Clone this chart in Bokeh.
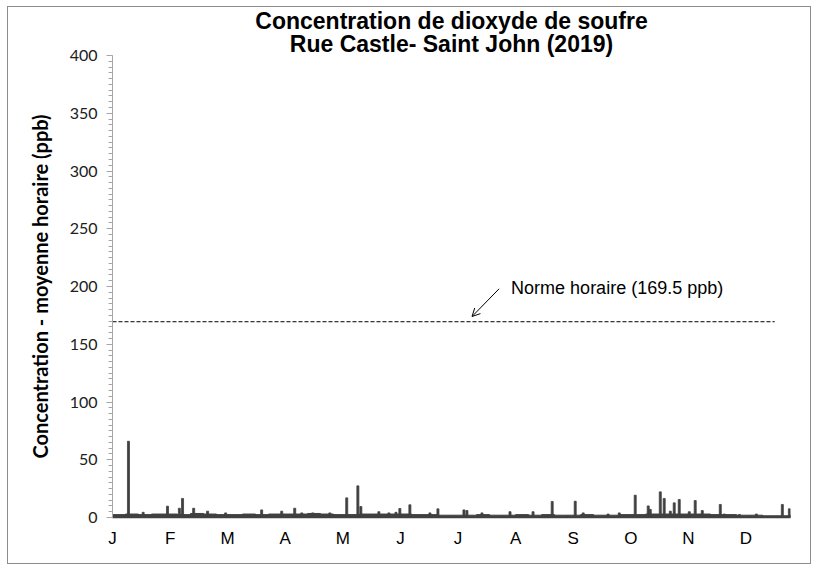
from bokeh.plotting import figure
from bokeh.models import Label, Arrow, OpenHead, FixedTicker, Range1d, Title
from bokeh.embed import file_html
from bokeh.resources import INLINE

# ---------------- data ----------------
months = ["J", "F", "M", "A", "M", "J", "J", "A", "S", "O", "N", "D"]
label_interval_h = 744          # category-axis label interval (hours)
n_hours = 8760                  # hourly values in 2019

# day of year of the short SO2 peaks and their hourly maximum (ppb)
spike_day = [8.6, 16.5, 29.6, 36.0, 37.7, 43.7, 51.2, 60.9, 80.3, 91.1,
             98.1, 101.9, 107.8, 117.0, 126.1, 132.1, 133.7, 143.4, 148.8,
             152.6, 154.7, 160.1, 170.9, 175.2, 189.2, 190.8, 198.9, 214.0,
             226.4, 236.7, 249.1, 253.4, 266.8, 272.8, 281.4, 288.4, 289.5,
             294.9, 297.0, 300.3, 302.4, 305.1, 310.5, 313.7, 317.5, 327.2,
             329.4, 337.5, 346.6, 360.6, 364.4]
spike_ppb = [66.0, 4.5, 9.8, 8.0, 16.5, 8.0, 5.5, 4.0, 6.6, 5.5,
             8.0, 4.0, 4.0, 4.0, 17.0, 27.4, 9.5, 5.0, 4.0,
             4.5, 7.8, 11.0, 4.0, 7.5, 6.6, 6.0, 4.0, 5.0,
             5.0, 13.9, 14.1, 4.0, 3.0, 4.0, 19.3, 10.0, 7.0,
             22.2, 16.5, 5.5, 12.7, 15.6, 5.0, 14.7, 6.0, 11.3,
             3.0, 2.5, 3.0, 11.3, 7.5]

# typical weekly background level (ppb)
base_week = [2.5, 3, 2.5, 3,
             3, 2.5, 3.5, 3,
             2.5, 2.5, 3, 2.5, 3,
             3, 3, 3.5, 3,
             2.5, 2.5, 3, 3,
             3, 3, 2.5, 2.5, 2,
             2, 2, 2.5, 2,
             2, 2.5, 2, 2.5, 2,
             2, 2.5, 2, 2,
             2.5, 2.5, 3, 3,
             3, 3, 3, 2.5, 2.5,
             2, 2, 1.5, 1.5, 2]

norm_ppb = 169.5
norm_text = "Norme horaire (169.5 ppb)"
norm_line_end_day = 356.5
title_1 = "Concentration de dioxyde de soufre"
title_2 = "Rue Castle- Saint John (2019)"
y_title = "Concentration - moyenne horaire (ppb)"

# ---------------- figure ----------------
DARK = "#404040"
p = figure(width=804, height=558, output_backend="svg", toolbar_location=None,
           x_range=Range1d(0, n_hours), y_range=Range1d(0, 400),
           min_border_left=104, min_border_right=22,
           min_border_top=48, min_border_bottom=48,
           background_fill_color="white", border_fill_color="white")
p.styles = {"border": "1px solid #8c8c8c", "margin-left": "7px", "margin-top": "6px"}
p.outline_line_color = None
p.grid.visible = False

# background level
week_x = [i * 168 + 84 for i in range(len(base_week))]
p.vbar(x=week_x, top=base_week, width=168, bottom=0,
       fill_color=DARK, line_color=DARK, line_width=1)

# peaks
spike_x = [d * 24 for d in spike_day]
p.vbar(x=spike_x, top=spike_ppb, width=26, bottom=0,
       fill_color=DARK, line_color=DARK, line_width=0.8)

# hourly standard
p.line(x=[0, norm_line_end_day * 24], y=[norm_ppb, norm_ppb],
       line_color="black", line_width=1, line_dash="4 2")

p.add_layout(Arrow(x_start=4995, y_start=norm_ppb + 28.5,
                   x_end=4645, y_end=norm_ppb + 4.5,
                   line_color="black", line_width=1,
                   end=OpenHead(size=8, line_color="black", line_width=1)))
p.add_layout(Label(x=5150, y=norm_ppb + 28.8, text=norm_text,
                   text_font="Liberation Sans", text_font_size="18px",
                   text_color="black", text_baseline="alphabetic"))

# two centred title lines: first added sits nearest the plot
title_style = dict(align="center", offset=-13.5,
                   text_font="Liberation Sans", text_font_style="bold",
                   text_font_size="23px", text_color="black")
p.add_layout(Title(text=title_2, standoff=-2, **title_style), "above")
p.add_layout(Title(text=title_1, standoff=-9, **title_style), "above")

# x axis
xa = p.xaxis[0]
xa.ticker = FixedTicker(ticks=[i * label_interval_h for i in range(len(months))])
xa.major_label_overrides = {i * label_interval_h: m for i, m in enumerate(months)}
xa.major_label_text_font = "Liberation Sans"
xa.major_label_text_font_size = "17px"
xa.major_label_text_color = "black"
xa.major_label_standoff = 5
xa.axis_line_color = DARK
xa.axis_line_width = 1.5
xa.major_tick_line_color = None
xa.minor_tick_line_color = None

# y axis
ya = p.yaxis[0]
ya.ticker = FixedTicker(ticks=list(range(0, 401, 50)),
                        minor_ticks=list(range(0, 401, 5)))
ya.axis_line_color = "#a6a6a6"
ya.major_tick_line_color = "#a6a6a6"
ya.minor_tick_line_color = "#a6a6a6"
ya.major_tick_in = 0
ya.major_tick_out = 6
ya.minor_tick_in = 0
ya.minor_tick_out = 4
ya.major_label_text_font = "Lato"
ya.major_label_text_font_size = "16px"
ya.major_label_text_color = "#202020"
ya.major_label_standoff = 9
ya.axis_label = y_title
ya.axis_label_text_font = "Lato"
ya.axis_label_text_font_style = "bold"
ya.axis_label_text_font_size = "20px"
ya.axis_label_text_color = "black"
ya.axis_label_standoff = 15

open("out.html", "w").write(file_html(p, INLINE))
